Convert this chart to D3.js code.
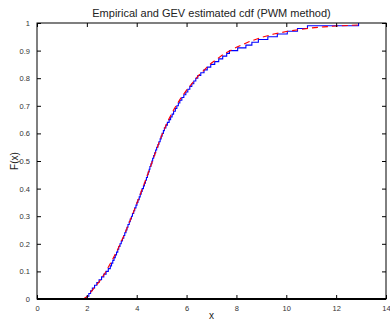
<html>
<head>
<script src="https://cdn.jsdelivr.net/npm/d3@7"></script>
<style>
body { margin: 0; background: #fff; font-family: 'Liberation Sans', Arial, sans-serif; }
</style>
</head>
<body>
<div id="chart"></div>
<script>

// sorted sample (read back from the empirical cdf steps, n = 100)
var sample = [
  2.00, 2.08, 2.15, 2.22, 2.31, 2.40, 2.49, 2.59, 2.68, 2.77,
  2.86, 2.94, 2.99, 3.04, 3.09, 3.14, 3.19, 3.24, 3.28, 3.33,
  3.38, 3.43, 3.48, 3.52, 3.57, 3.61, 3.65, 3.70, 3.74, 3.79,
  3.83, 3.88, 3.92, 3.97, 4.01, 4.05, 4.10, 4.14, 4.18, 4.22,
  4.27, 4.31, 4.35, 4.39, 4.43, 4.46, 4.50, 4.53, 4.57, 4.61,
  4.64, 4.68, 4.72, 4.76, 4.80, 4.85, 4.89, 4.94, 4.98, 5.02,
  5.07, 5.11, 5.17, 5.23, 5.30, 5.36, 5.42, 5.48, 5.55, 5.61,
  5.67, 5.73, 5.81, 5.89, 5.97, 6.05, 6.13, 6.21, 6.29, 6.37,
  6.45, 6.57, 6.70, 6.83, 6.97, 7.13, 7.29, 7.45, 7.61, 7.72,
  8.05, 8.38, 8.62, 8.88, 9.26, 9.64, 10.04, 10.45, 10.85, 12.90
];

// GEV cdf (PWM fit)
var gevX = [1.85, 2.0, 2.25, 2.5, 2.75, 3.0, 3.25, 3.5, 3.75, 4.0, 4.25, 4.5, 4.75, 5.0,
            5.25, 5.5, 5.75, 6.0, 6.5, 7.0, 7.5, 8.0, 8.5, 9.0, 9.5, 10, 10.5, 11, 11.5, 12, 12.5, 12.9];
var gevF = [0.0, 0.008, 0.035, 0.063, 0.097, 0.138, 0.182, 0.232, 0.288, 0.345, 0.405, 0.466, 0.53, 0.592,
            0.645, 0.688, 0.725, 0.757, 0.812, 0.855, 0.888, 0.912, 0.932, 0.948, 0.96, 0.969, 0.976, 0.982, 0.986, 0.989, 0.991, 0.993];

var xTicks = [0, 2, 4, 6, 8, 10, 12, 14];
var yTicks = [0, 0.1, 0.2, 0.3, 0.4, 0.5, 0.6, 0.7, 0.8, 0.9, 1];

var width = 390, height = 321;
var pLeft = 37, pRight = 386, pTop = 23, pBottom = 299;

var x = d3.scaleLinear().domain([0, 14]).range([pLeft, pRight]);
var y = d3.scaleLinear().domain([0, 1]).range([pBottom, pTop]);

var svg = d3.select("#chart").append("svg").attr("width", width).attr("height", height);

// empirical cdf as stairs
var n = sample.length;
var ecdf = [[sample[0], 0]].concat(sample.map((v, i) => [v, (i + 1) / n]));

svg.append("path")
  .attr("d", d3.line().x(d => x(d[0])).y(d => y(d[1])).curve(d3.curveStepAfter)(ecdf))
  .attr("fill", "none").attr("stroke", "#0000ff").attr("stroke-width", 1.1);

var gev = gevX.map((v, i) => [v, gevF[i]]);
svg.append("path")
  .attr("d", d3.line().x(d => x(d[0])).y(d => y(d[1]))(gev))
  .attr("fill", "none").attr("stroke", "#ff0000").attr("stroke-width", 1.1)
  .attr("stroke-dasharray", "6,4");

// axes, ticks pointing inwards and mirrored
var fmt = d3.format("~g");
var xAxisB = d3.axisBottom(x).tickValues(xTicks).tickSizeInner(-4).tickSizeOuter(0).tickPadding(7).tickFormat(fmt);
var xAxisT = d3.axisTop(x).tickValues(xTicks).tickSizeInner(-4).tickSizeOuter(0).tickFormat("");
var yAxisL = d3.axisLeft(y).tickValues(yTicks).tickSizeInner(-4).tickSizeOuter(0).tickPadding(7).tickFormat(fmt);
var yAxisR = d3.axisRight(y).tickValues(yTicks).tickSizeInner(-4).tickSizeOuter(0).tickFormat("");

var gb = svg.append("g").attr("transform", "translate(0," + pBottom + ")").call(xAxisB);
var gt = svg.append("g").attr("transform", "translate(0," + pTop + ")").call(xAxisT);
var gl = svg.append("g").attr("transform", "translate(" + pLeft + ",0)").call(yAxisL);
var gr = svg.append("g").attr("transform", "translate(" + pRight + ",0)").call(yAxisR);

[gb, gt, gl, gr].forEach(function(g) {
  g.select(".domain").remove();
  g.selectAll("line").attr("stroke", "#000");
  g.selectAll("text").attr("fill", "#333").style("font-family", "'Liberation Sans', Arial, sans-serif").style("font-size", "7.5px");
});

// box
svg.append("rect")
  .attr("x", pLeft).attr("y", pTop).attr("width", pRight - pLeft).attr("height", pBottom - pTop)
  .attr("fill", "none").attr("stroke", "#000").attr("stroke-width", 1);
svg.append("line").attr("x1", pLeft).attr("x2", pRight).attr("y1", pBottom).attr("y2", pBottom)
  .attr("stroke", "#000").attr("stroke-width", 2);

// titles
svg.append("text").attr("x", (pLeft + pRight) / 2).attr("y", 17).attr("text-anchor", "middle")
  .style("font-size", "11px").attr("fill", "#222")
  .text("Empirical and GEV estimated cdf (PWM method)");
svg.append("text").attr("x", (pLeft + pRight) / 2).attr("y", 319).attr("text-anchor", "middle")
  .style("font-size", "10px").attr("fill", "#222").text("x");
svg.append("text").attr("transform", "translate(18," + ((pTop + pBottom) / 2) + ") rotate(-90)")
  .attr("text-anchor", "middle").style("font-size", "10px").attr("fill", "#222").text("F(x)");

</script>
</body>
</html>
